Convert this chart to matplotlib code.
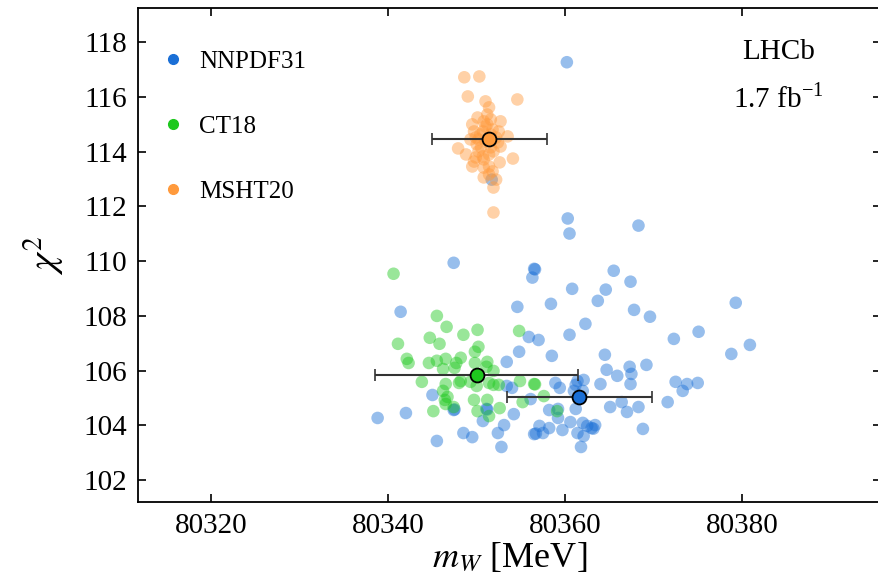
import matplotlib
matplotlib.use("Agg")
import matplotlib.pyplot as plt
from matplotlib.lines import Line2D

plt.rcParams['font.family'] = ['Liberation Serif', 'DejaVu Serif']
plt.rcParams['mathtext.fontset'] = 'stix'

# ---------------- data ----------------
nnpdf_mw = [80360.2, 80360.3, 80360.5, 80368.3, 80347.4, 80356.5, 80356.6, 80356.3, 80365.5, 80367.4,
            80360.8, 80364.6, 80363.7, 80358.4, 80354.6, 80341.4, 80367.8, 80369.6, 80362.3, 80360.5,
            80372.3, 80375.1, 80355.9, 80357.0, 80379.3, 80378.8, 80380.9, 80354.8, 80358.5, 80364.5,
            80353.4, 80364.7, 80365.9, 80367.3, 80367.5, 80369.2, 80364.0, 80367.4, 80372.5, 80373.8,
            80373.3, 80375.0, 80361.4, 80362.1, 80361.2, 80358.9, 80359.4, 80353.4, 80354.0, 80345.0,
            80356.1, 80371.6, 80365.1, 80366.4, 80367.0, 80368.3, 80361.2, 80358.2, 80359.2, 80351.1,
            80351.2, 80347.4, 80347.5, 80342.0, 80338.8, 80354.2, 80350.7, 80353.1, 80357.1, 80358.2,
            80357.5, 80356.5, 80356.7, 80359.7, 80360.6, 80362.0, 80362.5, 80363.0, 80363.2, 80363.4,
            80361.4, 80362.1, 80361.8, 80368.8, 80348.5, 80349.5, 80352.4, 80345.5, 80352.8, 80351.7,
            80359.2, 80361.0, 80362.0]
nnpdf_chi2 = [117.27, 111.56, 111.01, 111.30, 109.94, 109.72, 109.70, 109.40, 109.65, 109.25,
              108.99, 108.96, 108.55, 108.44, 108.33, 108.15, 108.22, 107.97, 107.71, 107.31,
              107.16, 107.42, 107.23, 107.12, 108.48, 106.61, 106.94, 106.69, 106.54, 106.58,
              106.32, 106.03, 105.81, 106.14, 105.88, 106.21, 105.51, 105.51, 105.59, 105.51,
              105.26, 105.55, 105.62, 105.66, 105.48, 105.55, 105.37, 105.44, 105.37, 105.11,
              104.96, 104.85, 104.67, 104.85, 104.49, 104.67, 104.60, 104.56, 104.60, 104.60,
              104.58, 104.56, 104.58, 104.45, 104.27, 104.41, 104.16, 104.01, 103.98, 103.90,
              103.72, 103.68, 103.70, 103.83, 104.12, 104.09, 103.98, 103.90, 103.88, 104.01,
              103.72, 103.61, 103.21, 103.87, 103.72, 103.57, 103.72, 103.43, 103.21, 112.98,
              104.27, 105.26, 105.26]

ct18_mw = [80340.6, 80345.5, 80346.6, 80348.5, 80350.1, 80344.7, 80345.8, 80341.1, 80342.1, 80342.3,
           80344.6, 80345.5, 80346.5, 80347.7, 80348.2, 80347.5, 80346.2, 80349.8, 80350.2, 80349.8,
           80351.2, 80351.1, 80351.9, 80354.8, 80343.8, 80346.5, 80348.2, 80348.0, 80349.3, 80350.0,
           80351.4, 80351.9, 80352.5, 80346.2, 80346.7, 80346.4, 80349.7, 80351.2, 80354.9, 80356.5,
           80356.6, 80346.5, 80347.4, 80350.1, 80351.4, 80352.6, 80345.1, 80355.2, 80357.6, 80359.1]
ct18_chi2 = [109.54, 108.00, 107.60, 107.31, 107.49, 107.20, 106.98, 106.98, 106.43, 106.28,
             106.28, 106.36, 106.43, 106.28, 106.47, 106.10, 106.06, 106.69, 106.87, 106.28,
             106.32, 106.14, 105.99, 107.45, 105.59, 105.51, 105.62, 105.55, 105.59, 105.44,
             105.55, 105.48, 105.48, 105.26, 105.04, 104.93, 104.93, 104.93, 105.62, 105.51,
             105.50, 104.78, 104.67, 104.52, 104.34, 104.63, 104.52, 104.85, 105.07, 104.52]

msht_mw = [80348.6, 80350.3, 80349.0, 80351.0, 80354.6, 80351.4, 80351.2, 80350.1, 80350.8, 80351.6,
           80349.5, 80351.0, 80352.7, 80349.7, 80350.7, 80351.8, 80352.5, 80349.9, 80350.2, 80353.5,
           80352.4, 80352.7, 80350.0, 80350.5, 80351.6, 80351.9, 80347.9, 80348.8, 80349.9, 80349.7,
           80350.7, 80350.8, 80354.1, 80352.6, 80349.5, 80350.8, 80351.4, 80351.8, 80351.4, 80350.8,
           80352.2, 80351.9, 80351.9, 80351.2, 80350.4, 80351.6, 80351.0, 80352.2, 80349.3, 80351.4,
           80350.2]
msht_chi2 = [116.72, 116.75, 116.02, 115.84, 115.91, 115.62, 115.36, 115.25, 115.11, 115.18,
             115.00, 114.92, 115.11, 114.74, 114.74, 114.81, 114.74, 114.52, 114.45, 114.56,
             114.34, 114.19, 114.27, 114.16, 114.16, 114.01, 114.12, 113.90, 113.79, 113.64,
             113.83, 113.72, 113.75, 113.61, 113.46, 113.42, 113.46, 113.28, 113.17, 113.06,
             112.98, 112.69, 111.78, 115.00, 114.63, 114.63, 114.37, 114.52, 114.45, 113.90,
             114.01]

pdf_names = ['NNPDF31', 'CT18', 'MSHT20']
best_mw = [80361.6, 80350.0, 80351.4]
best_mw_err = [8.2, 11.45, 6.5]
best_chi2 = [105.05, 105.84, 114.47]
colors = ['#1a6fd6', '#1ec81e', '#ff9a3c']

# ---------------- plot ----------------
fig = plt.figure(figsize=(8.79, 5.75), dpi=100)
ax = fig.add_axes([0.157, 0.127, 0.845, 0.859])

series = [(nnpdf_mw, nnpdf_chi2), (ct18_mw, ct18_chi2), (msht_mw, msht_chi2)]
for (xs, ys), c in zip(series, colors):
    ax.scatter(xs, ys, s=82, color=c, alpha=0.45, edgecolors='none', zorder=2)

for i, c in enumerate(colors):
    ax.errorbar(best_mw[i], best_chi2[i], xerr=best_mw_err[i], fmt='none',
                ecolor='#333333', elinewidth=1.5, capsize=4, capthick=1.2, zorder=4)
    ax.plot(best_mw[i], best_chi2[i], 'o', color=c, markersize=10,
            markeredgecolor='black', markeredgewidth=1.3, zorder=5)

ax.set_xlim(80311.7, 80395.7)
ax.set_ylim(101.2, 119.25)
ax.set_xticks([80320, 80340, 80360, 80380])
ax.set_yticks([102, 104, 106, 108, 110, 112, 114, 116, 118])
ax.tick_params(direction='in', length=6, width=1.2, labelsize=21,
               top=True, right=True, pad=8)
for sp in ax.spines.values():
    sp.set_linewidth(1.3)

ax.set_xlabel(r'$m_W$ [MeV]', fontsize=26, labelpad=2)
ax.set_ylabel(r'$\chi^2$', fontsize=28, labelpad=12)

handles = [Line2D([], [], marker='o', linestyle='none', color=c, markersize=7)
           for c in colors]
ax.legend(handles, pdf_names, loc='upper left', bbox_to_anchor=(0.0, 0.96),
          frameon=False, fontsize=18, labelspacing=1.7, handletextpad=0.54,
          handlelength=1.0, borderaxespad=0.5)

ax.text(0.862, 0.911, 'LHCb', transform=ax.transAxes, ha='center', va='center', fontsize=21)
ax.text(0.862, 0.815, r'1.7 fb$^{\mathregular{-1}}$', transform=ax.transAxes,
        ha='center', va='center', fontsize=21)

fig.savefig('out.png', dpi=100)
